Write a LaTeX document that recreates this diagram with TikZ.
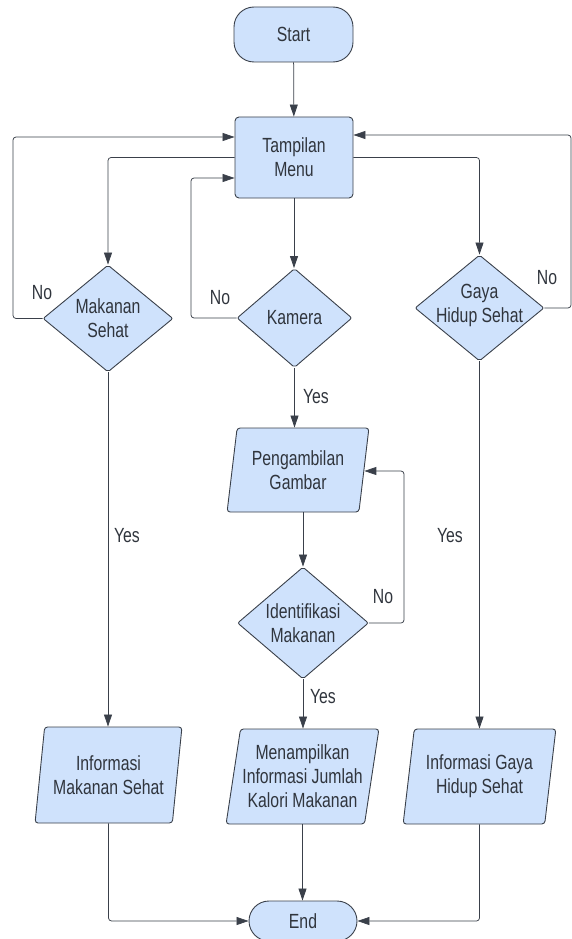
\documentclass[tikz,border=0pt]{standalone}
\usepackage{fontspec}
\setmainfont{Liberation Sans}[FakeStretch=0.77]
\usetikzlibrary{shapes.geometric,arrows.meta,calc}
\definecolor{boxfill}{RGB}{207,226,252}
\definecolor{edgec}{RGB}{58,64,74}
\definecolor{txtc}{RGB}{48,53,61}
\begin{document}
\begin{tikzpicture}[x=1pt,y=-1pt,
  every node/.style={text=txtc,font=\fontsize{20.5}{24}\selectfont},
  base/.style={draw=edgec,fill=boxfill,line width=0.9pt,inner sep=0pt,align=center},
  term/.style={base,rectangle,rounded corners=20pt},
  proc/.style={base,rectangle,rounded corners=4pt},
  dia/.style={base,diamond,rounded corners=2pt},
  io/.style={base,trapezium,trapezium stretches=true,rounded corners=3pt},
  lab/.style={inner sep=0pt,align=center},
  conn/.style={draw=edgec,line width=0.75pt,rounded corners=3pt},
  arr/.style={conn,-{Triangle[length=12pt,width=8pt]}}
]
\useasboundingbox (0,0) rectangle (572,939);

% nodes
\node[term,minimum width=119pt,minimum height=55pt] (start) at (293.5,34.5) {Start};
\node[proc,minimum width=118pt,minimum height=81pt] (menu) at (294,157.5) {Tampilan\\Menu};

\node[dia,minimum width=130pt,minimum height=107pt] (mk) at (108,318.5) {};
\node[lab] (mkt) at (mk.center) {Makanan\\Sehat};
\node[dia,minimum width=115pt,minimum height=99pt] (km) at (294.5,318) {};
\node[lab] (kmt) at (km.center) {Kamera};
\node[dia,minimum width=129pt,minimum height=106pt] (gy) at (479.5,308) {};
\node[lab] (gyt) at ($(gy.center)+(0,-3)$) {Gaya\\Hidup Sehat};

\node[io,minimum width=142pt,minimum height=84pt,trapezium left angle=79,trapezium right angle=101] (pg) at (298,470) {Pengambilan\\Gambar};
\node[dia,minimum width=131pt,minimum height=112pt] (id) at (303,623) {};
\node[lab] (idt) at (id.center) {Identifikasi\\Makanan};

\node[io,minimum width=147pt,minimum height=96pt,trapezium left angle=78,trapezium right angle=102] (ims) at (108.5,775) {Informasi\\Makanan Sehat};
\node[io,minimum width=153pt,minimum height=95pt,trapezium left angle=77.5,trapezium right angle=102.5] (mn) at (302.5,776.5) {Menampilkan\\Informasi Jumlah\\Kalori Makanan};
\node[io,minimum width=153pt,minimum height=95pt,trapezium left angle=78,trapezium right angle=102] (igs) at (479.5,776.5) {Informasi Gaya\\Hidup Sehat};

\node[term,minimum width=108pt,minimum height=40pt] (end) at (303,921) {End};

% loop corner coordinates
\coordinate (L1) at (13,137);
\coordinate (K1) at (191,178);
\coordinate (R1) at (571,135);
\coordinate (N1) at (404,471);

% connectors
\draw[arr] (start) -- (menu);
\draw[arr] (menu.west) -| (mk.north);
\draw[arr] (menu.south) -- (menu.south |- km.north);
\draw[arr] (menu.east) -| (gy.north);

\draw[arr] (mk.west) -| (L1) -- (menu.west |- L1);
\draw[arr] (km.west) -| (K1) -- (menu.west |- K1);
\draw[arr] (gy.east) -| (R1) -- (menu.east |- R1);

\draw[arr] (km.south) -- (km.south |- pg.north);
\draw[arr] (id.north |- pg.south) -- (id.north);
\draw[arr] (id.east) -| (N1) -- (pg.east |- N1);
\draw[arr] (id.south) -- (id.south |- mn.north);

\draw[arr] (mk.south) -- (mk.south |- ims.north);
\draw[arr] (gy.south) -- (gy.south |- igs.north);

\draw[arr] (ims.south) |- (end.west);
\draw[arr] (mn.south) -- (mn.south |- end.north);
\draw[arr] (igs.south) |- (end.east);

% labels
\node[lab] (no1) at (42,293) {No};
\node[lab] (no2) at (220,298) {No};
\node[lab] (no3) at (547,278) {No};
\node[lab] (no4) at (383,597) {No};
\node[lab] (yes1) at (316,397) {Yes};
\node[lab] (yes2) at (323,697) {Yes};
\node[lab] (yes3) at (127,536) {Yes};
\node[lab] (yes4) at (450,536) {Yes};
\end{tikzpicture}
\end{document}
